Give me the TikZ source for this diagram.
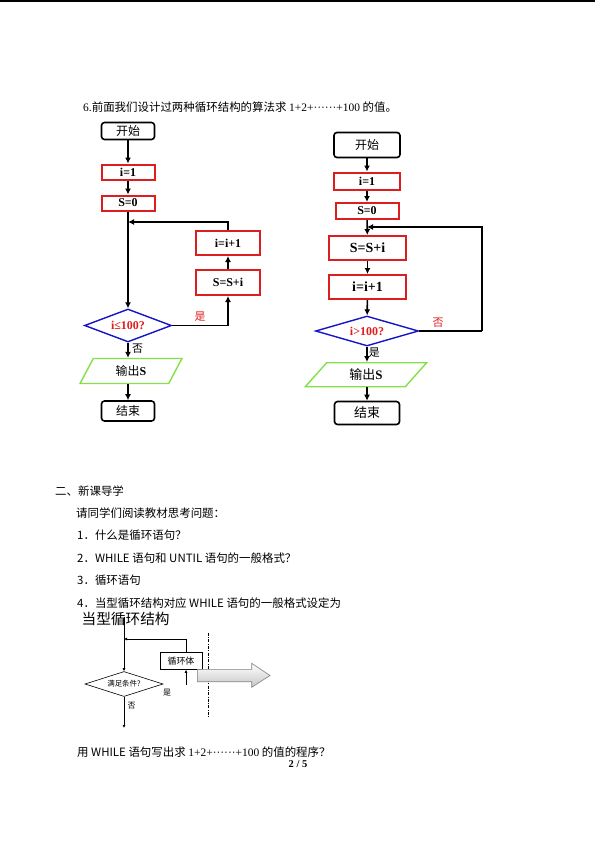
\documentclass[tikz,border=0pt]{standalone}
\usepackage{fontspec}
\setmainfont{Noto Sans CJK SC}
\newfontfamily\tnr{Liberation Serif}
\usetikzlibrary{shapes.geometric,arrows.meta}
\definecolor{boxred}{RGB}{220,30,30}
\definecolor{dblue}{RGB}{20,20,200}
\definecolor{outgreen}{RGB}{130,225,70}

\begin{document}
\begin{tikzpicture}[x=1bp,y=-1bp,
  txt/.style={anchor=west,inner sep=0,font=\fontsize{11.5}{13}\selectfont},
  term/.style={draw,line width=1.6bp,rounded corners=3bp,inner sep=0,font=\fontsize{12}{14}\selectfont},
  proc/.style={draw=boxred,line width=2bp,inner sep=0,font=\tnr\bfseries\fontsize{12}{14}\selectfont},
  cond/.style={diamond,draw=dblue,line width=1.4bp,inner sep=0,aspect=3,text=boxred,font=\tnr\bfseries\fontsize{12}{14}\selectfont},
  outp/.style={trapezium,draw=outgreen,line width=1.4bp,inner sep=0,trapezium stretches=true,font=\fontsize{12}{14}\selectfont},
  flow/.style={line width=1.6bp,-{Latex[length=6bp,width=6bp]}},
  thin/.style={line width=.6bp},
  tip/.style={-{Latex[length=3bp,width=3bp]}}]
\useasboundingbox (0,0) rectangle (595,841);
\draw[line width=1.6bp] (0,1) -- (595,1);

\node[txt] (head) at (83,107) {{\tnr 6.}前面我们设计过两种循环结构的算法求 {\tnr 1+2+······+100} 的值。};

% left chart
\node[term,minimum width=53bp,minimum height=17bp] (st1) at (128,131) {开始};
\node[proc,minimum width=53bp,minimum height=15bp] (a1) at (128,172) {i=1};
\node[proc,minimum width=53bp,minimum height=15bp] (b1) at (128,203) {S=0};
\node[proc,minimum width=64bp,minimum height=24bp] (n1) at (228,243) {i=i+1};
\node[proc,minimum width=64bp,minimum height=25bp] (s1) at (228,282.5) {S=S+i};
\node[cond,minimum width=87bp,minimum height=33bp] (d1) at (128,325.5) {i≤100?};
\node[outp,trapezium left angle=64,trapezium right angle=116,minimum width=102bp,minimum height=25bp] (o1) at (131,371) {输出{\tnr\bfseries S}};
\node[term,minimum width=53bp,minimum height=20bp] (e1) at (128,411) {结束};
\coordinate (j1) at (128,222);
\draw[flow] (st1) -- (a1);
\draw[flow] (a1) -- (b1);
\draw[flow] (b1) -- (d1);
\draw[flow] (d1.east) -| node[pos=.25,above,text=boxred,font=\fontsize{11}{13}\selectfont] {是} (s1.south);
\draw[flow] (s1) -- (n1);
\draw[flow] (n1.north) |- (j1);
\draw[flow] (d1.south) -- node[right,pos=.4,font=\fontsize{11}{13}\selectfont] {否} (o1.north -| d1.south);
\draw[flow] (o1.south -| e1.north) -- (e1);

% right chart
\node[term,minimum width=66bp,minimum height=25bp] (st2) at (367,145) {开始};
\node[proc,minimum width=66bp,minimum height=17bp] (a2) at (367,181) {i=1};
\node[proc,minimum width=63bp,minimum height=16bp] (b2) at (367,211) {S=0};
\node[proc,minimum width=77bp,minimum height=24bp,font=\tnr\bfseries\fontsize{14}{16}\selectfont] (s2) at (367.5,248) {S=S+i};
\node[proc,minimum width=77bp,minimum height=24bp,font=\tnr\bfseries\fontsize{14}{16}\selectfont] (n2) at (367.5,287) {i=i+1};
\node[cond,minimum width=103bp,minimum height=30bp] (d2) at (367,331) {i>100?};
\node[outp,trapezium left angle=53,trapezium right angle=127,minimum width=122bp,minimum height=24bp,font=\fontsize{13}{15}\selectfont] (o2) at (366,374.7) {输出{\tnr\bfseries S}};
\node[term,minimum width=65bp,minimum height=23bp,font=\fontsize{13}{15}\selectfont] (e2) at (367,413) {结束};
\coordinate (j2) at (367,227);
\coordinate (r2) at (482,331);
\draw[flow] (st2) -- (a2);
\draw[flow] (a2) -- (b2);
\draw[flow] (b2) -- (s2);
\draw[flow] (s2) -- (n2);
\draw[flow] (n2) -- (d2);
\draw[line width=1.6bp] (d2.east) -- node[pos=.3,above,text=boxred,font=\fontsize{11}{13}\selectfont] {否} (r2);
\draw[flow] (r2) |- (j2);
\draw[flow] (d2.south) -- node[right,pos=.4,inner sep=1bp,font=\fontsize{11}{13}\selectfont] {是} (o2.north -| d2.south);
\draw[flow] (o2.south -| e2.north) -- (e2);

% text
\node[txt] (sec) at (55,491) {二、新课导学};
\node[txt] (q0) at (76,513) {请同学们阅读教材思考问题：};
\node[txt] (q1) at (77,535) {1．什么是循环语句？};
\node[txt] (q2) at (77,558) {2．WHILE 语句和 UNTIL 语句的一般格式？};
\node[txt] (q3) at (77,580) {3．循环语句};
\node[txt] (q4) at (77,603) {4．当型循环结构对应 WHILE 语句的一般格式设定为};
\node[txt,font=\fontsize{14.7}{16}\selectfont] (ttl) at (81.5,619) {当型循环结构};

% while loop sketch
\node[draw,thin,minimum width=42bp,minimum height=17bp,inner sep=0,font=\fontsize{9}{11}\selectfont] (body) at (181,661) {循环体};
\node[diamond,draw,thin,aspect=3,inner sep=0,minimum width=78bp,minimum height=25bp,font=\fontsize{7.5}{9}\selectfont] (d3) at (124,684) {满足条件?};
\coordinate (t3) at (124,617);
\coordinate (k3) at (124,639);
\coordinate (u3) at (186,685);
\coordinate (z3) at (124,728);
\draw[thin,tip] (t3) -- (d3.north);
\draw[thin,tip] (body.north -| u3) |- (k3);
\draw[thin,tip] (u3) -- (u3 |- body.south);
\draw[thin,tip] (d3.south) -- node[right,pos=.3,font=\fontsize{8}{10}\selectfont] {否} (z3);
\node[font=\fontsize{8}{10}\selectfont,inner sep=0] (yes3) at (167,693) {是};
\draw[thin,dash pattern=on 3bp off 1.5bp on .6bp off 1.5bp] (208.3,632.7) -- (208.3,718.3);
\shade[draw=gray,thin,top color=white,bottom color=gray!45] (197.3,669.3) -- (251.7,669.3) -- (251.7,663.3) -- (270,675.5) -- (251.7,687.3) -- (251.7,681.7) -- (197.3,681.7) -- cycle;

\node[txt] (q5) at (77,752) {用 WHILE 语句写出求 {\tnr 1+2+······+100} 的值的程序？};
\node[inner sep=0,font=\tnr\bfseries\fontsize{10.5}{12}\selectfont] (pg) at (298,764) {2 / 5};
\end{tikzpicture}
\end{document}
